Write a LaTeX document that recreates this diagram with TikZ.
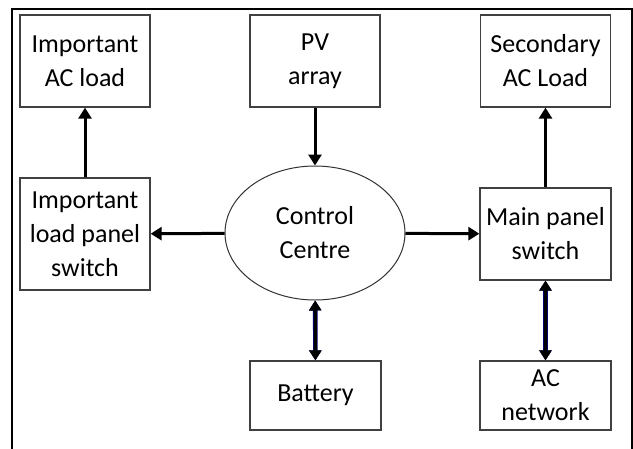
\documentclass[tikz,border=0pt]{standalone}
\usepackage{fontspec}
\setmainfont{Carlito}
\usetikzlibrary{arrows.meta,shapes.geometric}
\tikzset{
  blockbox/.style={draw=black!75,line width=1.3pt,align=center,
    minimum width=130pt,minimum height=92pt,inner sep=0pt,
    font=\fontsize{26}{34}\selectfont},
  centre/.style={draw=black!80,ellipse,line width=1pt,align=center,
    minimum width=180pt,minimum height=134pt,inner sep=0pt,
    font=\fontsize{26}{34}\selectfont},
  flow/.style={line width=3pt,-{Triangle[length=11pt,width=13pt]}},
  twoway/.style={line width=3pt,{Triangle[length=10pt,width=12pt]}-{Triangle[length=10pt,width=12pt]},
    preaction={draw=blue!45!black,line width=4.6pt}}
}
\begin{document}
\begin{tikzpicture}[x=1pt,y=-1pt]
  \useasboundingbox (0,0) rectangle (633,448);
  % frame
  \draw[line width=2pt] (12,450) -- (12,9) -- (632,9) -- (632,450);
  % top row
  \node[blockbox] (impload) at (85,61) {Important\\AC load};
  \node[blockbox] (pv) at (315,61) {PV\\array};
  \node[blockbox] (secload) at (545.5,61) {Secondary\\AC Load};
  % middle row
  \node[blockbox,minimum height=112pt] (impswitch) at (85,234) {Important\\load panel\\switch};
  \node[centre] (control) at (315,233) {Control\\Centre};
  \node[blockbox,minimum width=131pt] (mainswitch) at (545.5,234) {Main panel\\switch};
  % bottom row
  \node[blockbox,minimum width=131pt,minimum height=69pt] (battery) at (315.5,395.5) {Battery};
  \node[blockbox,minimum width=131pt,minimum height=69pt] (acnet) at (545.5,395.5) {AC\\network};
  % connections
  \draw[flow] (pv) -- (control);
  \draw[flow] (control) -- (impswitch);
  \draw[flow] (control) -- (mainswitch);
  \draw[flow] (impswitch) -- (impload);
  \draw[flow] (mainswitch) -- (secload);
  \draw[twoway] (battery) -- (control);
  \draw[twoway] (acnet) -- (mainswitch);
\end{tikzpicture}
\end{document}
